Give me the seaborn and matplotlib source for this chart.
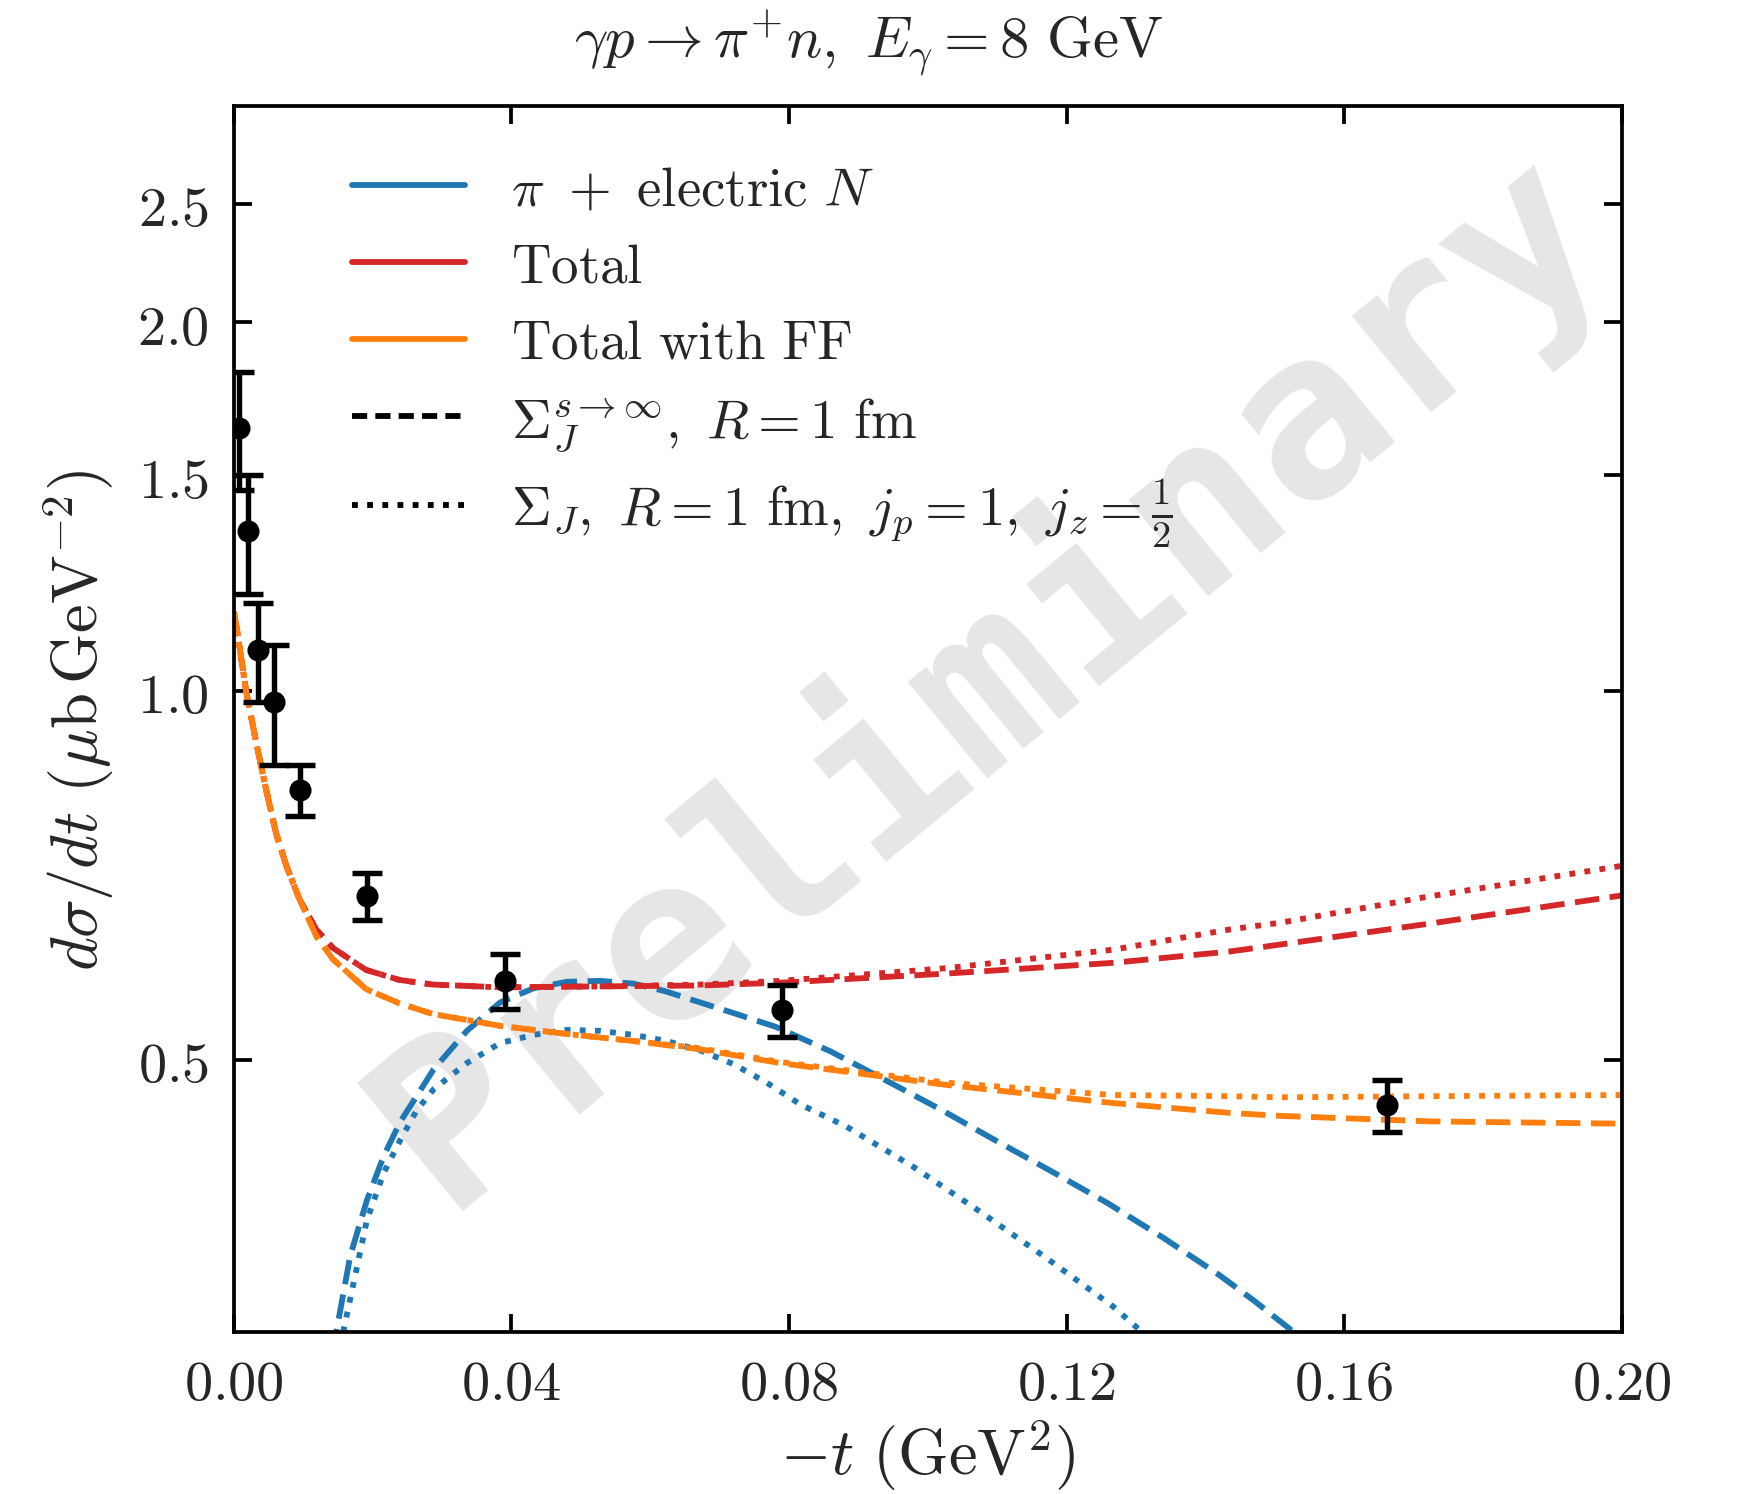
import numpy as np
import pandas as pd
import seaborn as sns
import matplotlib.pyplot as plt
from matplotlib.lines import Line2D
from matplotlib.ticker import FixedLocator, FuncFormatter, NullLocator

# measured points (-t in GeV^2, dsigma/dt in mub/GeV^2)
t_data = [0.0008, 0.0021, 0.0035, 0.0058, 0.0096, 0.0192, 0.0391, 0.0790, 0.1661]
xs_data = [1.64, 1.35, 1.08, 0.98, 0.83, 0.68, 0.58, 0.549, 0.459]
xs_err = [0.18, 0.15, 0.10, 0.11, 0.04, 0.03, 0.03, 0.027, 0.022]

# Total (red)
t_tot = [0.0, 0.0004, 0.0018, 0.0033, 0.0047, 0.0061, 0.0076, 0.0095, 0.0119, 0.0143,
         0.0191, 0.0239, 0.0287, 0.0384, 0.0528, 0.0672, 0.0787, 0.1027, 0.1267, 0.1436,
         0.1508, 0.1724, 0.2]
tot_sum = [1.16, 1.13, 1.00, 0.905, 0.83, 0.766, 0.72, 0.676, 0.639, 0.617,
           0.592, 0.581, 0.576, 0.573, 0.574, 0.575, 0.578, 0.588, 0.600, 0.613,
           0.621, 0.646, 0.681]
tot_jz = [1.16, 1.13, 1.00, 0.905, 0.83, 0.766, 0.72, 0.676, 0.639, 0.617,
          0.592, 0.581, 0.576, 0.573, 0.574, 0.576, 0.580, 0.594, 0.615, 0.639,
          0.647, 0.680, 0.720]

# Total with FF (orange)
t_ff = [0.0, 0.0004, 0.0018, 0.0033, 0.0047, 0.0061, 0.0076, 0.0095, 0.0119, 0.0143,
        0.0191, 0.0239, 0.0287, 0.0384, 0.0479, 0.0576, 0.0672, 0.0787, 0.1027, 0.1267,
        0.1436, 0.1508, 0.1724, 0.2]
ff_sum = [1.16, 1.13, 1.00, 0.905, 0.83, 0.766, 0.72, 0.676, 0.631, 0.604,
          0.571, 0.556, 0.545, 0.533, 0.525, 0.518, 0.510, 0.497, 0.477, 0.461,
          0.4525, 0.450, 0.4454, 0.4435]
ff_jz = [1.16, 1.13, 1.00, 0.905, 0.83, 0.766, 0.72, 0.676, 0.631, 0.604,
         0.571, 0.556, 0.545, 0.533, 0.525, 0.518, 0.511, 0.498, 0.479, 0.468,
         0.467, 0.466, 0.467, 0.468]

# pi + electric N (blue)
t_pin_sum = [0.0135, 0.0148, 0.0168, 0.0192, 0.0216, 0.0240, 0.0288, 0.0336, 0.0384, 0.0432,
             0.0480, 0.0528, 0.0576, 0.0621, 0.0672, 0.0720, 0.0781, 0.0860, 0.0940, 0.1020,
             0.1100, 0.1180, 0.1259, 0.1339, 0.1419, 0.1470, 0.1520, 0.156]
pin_sum = [0.27, 0.300, 0.346, 0.384, 0.417, 0.445, 0.491, 0.528, 0.557, 0.572,
           0.579, 0.580, 0.577, 0.569, 0.557, 0.546, 0.532, 0.508, 0.481, 0.455,
           0.429, 0.405, 0.382, 0.358, 0.334, 0.318, 0.302, 0.29]
t_pin_jz = [0.0140, 0.0158, 0.0192, 0.0216, 0.0240, 0.0264, 0.0288, 0.0336, 0.0384, 0.0432,
            0.0480, 0.0528, 0.0576, 0.0624, 0.0672, 0.0720, 0.0768, 0.0816, 0.0883, 0.0979,
            0.1075, 0.1171, 0.1267, 0.1308, 0.134]
pin_jz = [0.268, 0.300, 0.370, 0.404, 0.430, 0.455, 0.473, 0.497, 0.516, 0.524,
          0.529, 0.528, 0.524, 0.518, 0.509, 0.496, 0.479, 0.460, 0.441, 0.409,
          0.376, 0.3445, 0.3145, 0.300, 0.29]

blue, red, orange = "#1f77b4", "#d62728", "#ff7f0e"

sns.set_theme(style="ticks")
plt.rcParams["mathtext.fontset"] = "cm"
plt.rcParams["font.family"] = ["DejaVu Serif"]

fig = plt.figure(figsize=(5.79, 4.9833), dpi=300)
ax = fig.add_axes([0.1345, 0.1086, 0.7992, 0.8195])

ax.text(0.542, 0.537, "Preliminary", transform=ax.transAxes, rotation=39.5,
        rotation_mode="anchor", ha="center", va="center", fontsize=55,
        family="DejaVu Sans Mono", weight="bold", color="#e6e6e6", zorder=0)

lw = 1.4
dash = (4.2, 1.8)
dot = (1, 1.6)
sns.lineplot(x=t_pin_sum, y=pin_sum, color=blue, lw=lw, ax=ax).lines[-1].set_dashes(dash)
sns.lineplot(x=t_pin_jz, y=pin_jz, color=blue, lw=lw, ax=ax).lines[-1].set_dashes(dot)
sns.lineplot(x=t_tot, y=tot_sum, color=red, lw=lw, ax=ax).lines[-1].set_dashes(dash)
sns.lineplot(x=t_tot, y=tot_jz, color=red, lw=lw, ax=ax).lines[-1].set_dashes(dot)
sns.lineplot(x=t_ff, y=ff_sum, color=orange, lw=lw, ax=ax).lines[-1].set_dashes(dash)
sns.lineplot(x=t_ff, y=ff_jz, color=orange, lw=lw, ax=ax).lines[-1].set_dashes(dot)

ax.errorbar(t_data, xs_data, yerr=xs_err, fmt="o", color="black", ms=4.3,
            elinewidth=1.3, capsize=3.6, capthick=1.3, zorder=5)

ax.set_yscale("log")
ax.set_xlim(0, 0.2)
ax.set_ylim(0.3, 3.0)
ax.xaxis.set_major_locator(FixedLocator([0.0, 0.04, 0.08, 0.12, 0.16, 0.20]))
ax.xaxis.set_major_formatter(FuncFormatter(lambda v, p: "$%.2f$" % v))
ax.yaxis.set_major_locator(FixedLocator([0.5, 1.0, 1.5, 2.0, 2.5]))
ax.yaxis.set_major_formatter(FuncFormatter(lambda v, p: "$%.1f$" % v))
ax.yaxis.set_minor_locator(NullLocator())
ax.xaxis.set_minor_locator(NullLocator())
ax.tick_params(which="major", direction="in", top=True, right=True, length=4.4,
               width=0.9, labelsize=13.5, pad=6, color="black")
for s in ax.spines.values():
    s.set_linewidth(0.9)
    s.set_color("black")

ax.set_xlabel(r"$-t\ (\mathrm{GeV}^2)$", fontsize=15.5, labelpad=1.5)
ax.set_ylabel(r"$d\sigma/dt\ (\mu\mathrm{b}\,\mathrm{GeV}^{-2})$", fontsize=15.5, labelpad=5)
fig.text(0.5, 0.9706, r"$\gamma p \to \pi^{+} n,\ E_\gamma = 8\ \mathrm{GeV}$",
         fontsize=14.1, ha="center", va="center")

handles = [
    Line2D([], [], color=blue, lw=lw),
    Line2D([], [], color=red, lw=lw),
    Line2D([], [], color=orange, lw=lw),
    Line2D([], [], color="black", lw=lw, dashes=(2.6, 1.4)),
    Line2D([], [], color="black", lw=lw, dashes=dot),
]
labels = [
    r"$\pi\ +\ \mathrm{electric}\ N$",
    r"$\mathrm{Total}$",
    r"$\mathrm{Total\ with\ FF}$",
    r"$\Sigma_{J}^{s\to\infty},\ R=1\ \mathrm{fm}$",
    r"$\Sigma_{J},\ R=1\ \mathrm{fm},\ j_p=1,\ j_z=\frac{1}{2}$",
]
ax.legend(handles, labels, loc="upper left", bbox_to_anchor=(0.0496, 0.994),
          frameon=False, fontsize=13.2, handlelength=2.05, handletextpad=0.85,
          labelspacing=0.45)

fig.savefig("out.png", dpi=300)
